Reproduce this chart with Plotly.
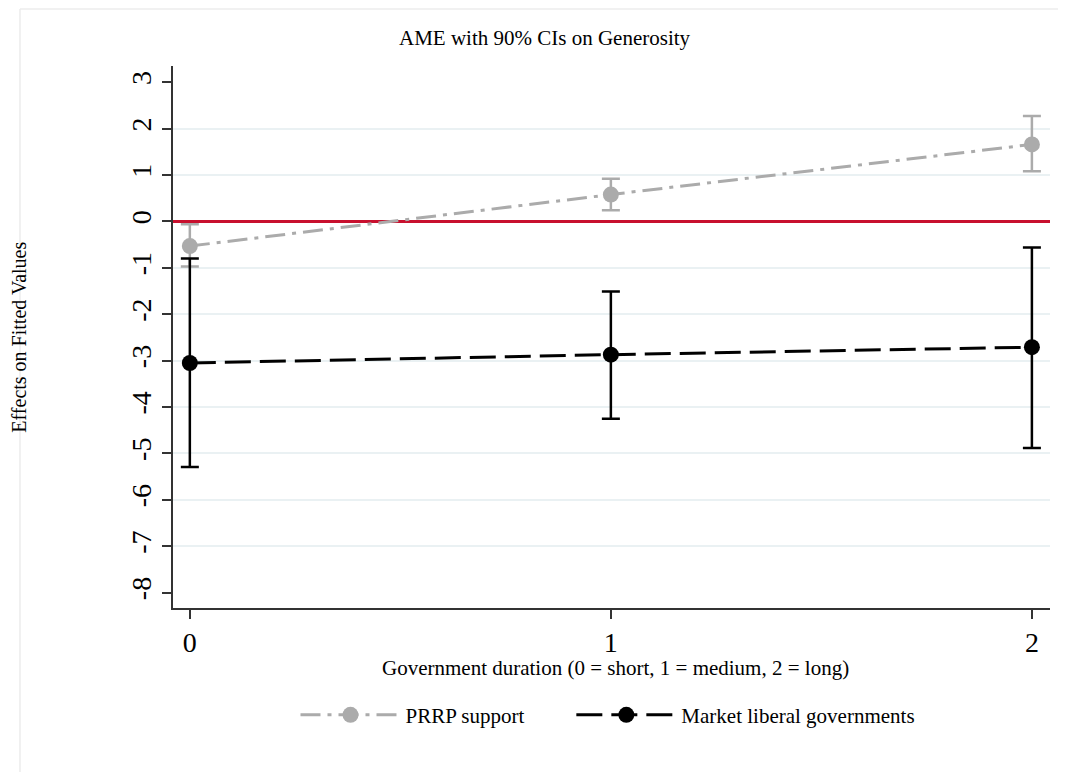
import plotly.graph_objects as go

# Government duration categories
duration = [0, 1, 2]

# PRRP support: AME and 90% CI bounds
prrp_ame = [-0.53, 0.58, 1.66]
prrp_hi = [-0.06, 0.92, 2.27]
prrp_lo = [-0.97, 0.24, 1.08]

# Market liberal governments: AME and 90% CI bounds
mlg_ame = [-3.05, -2.87, -2.71]
mlg_hi = [-0.80, -1.51, -0.56]
mlg_lo = [-5.29, -4.25, -4.88]

y_ticks = [3, 2, 1, 0, -1, -2, -3, -4, -5, -6, -7, -8]
grid_ticks = [2, 1, -1, -2, -3, -4, -5, -6, -7]

SERIF = "Liberation Serif, Times New Roman, serif"
GRAY = "#ababab"
PAD = "\u00a0" * 8  # extra room between legend entries

fig = go.Figure()

fig.add_trace(go.Scatter(
    x=duration, y=prrp_ame, name="PRRP support" + PAD,
    mode="lines+markers",
    line=dict(color=GRAY, width=3, dash="20px,7px,4px,7px"),
    marker=dict(color=GRAY, size=16),
    error_y=dict(type="data", symmetric=False,
                 array=[h - m for h, m in zip(prrp_hi, prrp_ame)],
                 arrayminus=[m - l for m, l in zip(prrp_ame, prrp_lo)],
                 color=GRAY, thickness=2.5, width=9),
))

fig.add_trace(go.Scatter(
    x=duration, y=mlg_ame, name="Market liberal governments",
    mode="lines+markers",
    line=dict(color="black", width=3, dash="26px,9px"),
    marker=dict(color="black", size=16),
    error_y=dict(type="data", symmetric=False,
                 array=[h - m for h, m in zip(mlg_hi, mlg_ame)],
                 arrayminus=[m - l for m, l in zip(mlg_ame, mlg_lo)],
                 color="black", thickness=2.5, width=9),
))

# invisible trace on overlay axis just to carry the grid lines
fig.add_trace(go.Scatter(x=[None], y=[None], yaxis="y2", showlegend=False))

fig.update_layout(
    width=1058, height=764,
    margin=dict(l=165, r=16, t=58, b=164),
    paper_bgcolor="white", plot_bgcolor="white",
    font=dict(family=SERIF, color="black", size=21),
    showlegend=True,
    legend=dict(orientation="h", x=0.496, xanchor="center", y=-0.16, yanchor="top",
                font=dict(size=21, family=SERIF), itemwidth=100, traceorder="normal"),
    xaxis=dict(range=[-0.04, 2.043], tickvals=duration, ticktext=[str(d) for d in duration],
               showgrid=False, zeroline=False, showline=True, linecolor="#333", linewidth=1.5,
               ticks="outside", ticklen=9, tickwidth=1.5, tickcolor="#333",
               tickfont=dict(size=28, family=SERIF)),
    yaxis=dict(range=[-8.33, 3.35], tickvals=y_ticks, ticktext=[str(v) for v in y_ticks],
               tickangle=-90,
               showgrid=False, zeroline=True, zerolinecolor="#c8102e", zerolinewidth=2.5,
               showline=True, linecolor="#333", linewidth=1.5,
               ticks="outside", ticklen=9, tickwidth=1.5, tickcolor="#333",
               tickfont=dict(size=28, family=SERIF)),
    yaxis2=dict(range=[-8.33, 3.35], overlaying="y", tickvals=grid_ticks,
                showticklabels=False, showgrid=True, gridcolor="#eaf1f3", gridwidth=2,
                zeroline=False, showline=False),
    annotations=[
        dict(text="AME with 90% CIs on Generosity", xref="paper", yref="paper",
             x=0.424, y=1.052, xanchor="center", yanchor="middle", showarrow=False,
             font=dict(size=21, family=SERIF)),
        dict(text="Government duration (0 = short, 1 = medium, 2 = long)",
             xref="paper", yref="paper", x=0.504, y=-0.11,
             xanchor="center", yanchor="middle", showarrow=False,
             font=dict(size=21, family=SERIF)),
        dict(text="Effects on Fitted Values", xref="paper", yref="paper",
             x=-0.176, y=0.5, xanchor="center", yanchor="middle", textangle=-90,
             showarrow=False, font=dict(size=20, family=SERIF)),
    ],
    shapes=[
        dict(type="line", xref="paper", yref="paper", x0=-0.1745, x1=1.03, y0=1.105, y1=1.105,
             line=dict(color="#ececec", width=1.5)),
        dict(type="line", xref="paper", yref="paper", x0=-0.1745, x1=-0.1745, y0=1.105, y1=-0.31,
             line=dict(color="#ececec", width=1.5)),
    ],
)

fig.write_html("out.html")
